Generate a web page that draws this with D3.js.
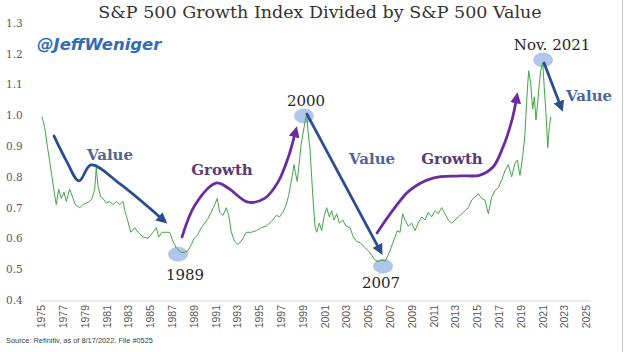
<!DOCTYPE html>
<html>
<head>
<meta charset="utf-8">
<script src="https://cdn.jsdelivr.net/npm/d3@7"></script>
<style>
  body { margin: 0; background: #fff; }
  svg { display: block; }
</style>
</head>
<body>
<div id="container"></div>
<script>
let w = 624;
let h = 352;

// ratio of S&P 500 Growth to S&P 500 Value
let years = [
  1975.09, 1975.34, 1975.58, 1975.80, 1976.01, 1976.26, 1976.40, 1976.62, 1976.86, 1977.11,
  1977.32, 1977.63, 1977.94, 1978.15, 1978.55, 1978.85, 1979.16, 1979.47, 1979.68, 1979.93,
  1980.07, 1980.23, 1980.48, 1980.69, 1980.99, 1981.30, 1981.61, 1981.91, 1982.22, 1982.52,
  1982.73, 1982.98, 1983.23, 1983.60, 1983.90, 1984.36, 1984.82, 1985.28, 1985.58, 1985.80,
  1986.10, 1986.50, 1986.81, 1987.11, 1987.41, 1987.82, 1988.18, 1988.49, 1988.79, 1989.04,
  1989.34, 1989.71, 1990.02, 1990.32, 1990.62, 1990.94, 1991.17, 1991.39, 1991.70, 1992.00,
  1992.22, 1992.46, 1992.77, 1993.07, 1993.44, 1993.83, 1994.29, 1994.75, 1995.21, 1995.67,
  1996.13, 1996.59, 1996.90, 1997.20, 1997.50, 1997.72, 1997.96, 1998.21, 1998.33, 1998.51,
  1998.73, 1998.88, 1999.13, 1999.28, 1999.38, 1999.52, 1999.68, 1999.83, 1999.98, 2000.14,
  2000.29, 2000.53, 2000.75, 2000.96, 2001.21, 2001.45, 2001.67, 2001.88, 2002.13, 2002.37,
  2002.68, 2002.98, 2003.35, 2003.65, 2003.96, 2004.33, 2004.72, 2005.03, 2005.34, 2005.64,
  2005.94, 2006.26, 2006.56, 2006.77, 2007.02, 2007.27, 2007.48, 2007.69, 2007.94, 2008.18,
  2008.39, 2008.70, 2009.01, 2009.31, 2009.61, 2009.93, 2010.23, 2010.53, 2010.84, 2011.15,
  2011.45, 2011.76, 2012.06, 2012.37, 2012.68, 2012.98, 2013.28, 2013.60, 2013.90, 2014.20,
  2014.51, 2014.82, 2015.12, 2015.43, 2015.73, 2016.04, 2016.35, 2016.65, 2016.96, 2017.27,
  2017.57, 2017.87, 2018.18, 2018.49, 2018.70, 2018.94, 2019.19, 2019.40, 2019.56, 2019.74,
  2019.92, 2020.11, 2020.26, 2020.41, 2020.57, 2020.72, 2020.84, 2021.03, 2021.17, 2021.33,
  2021.49, 2021.63, 2021.76
];
let ratio = [
  0.996, 0.96, 0.90, 0.85, 0.80, 0.74, 0.71, 0.76, 0.73, 0.75,
  0.72, 0.76, 0.73, 0.71, 0.70, 0.71, 0.715, 0.72, 0.73, 0.76,
  0.83, 0.77, 0.735, 0.73, 0.715, 0.72, 0.71, 0.72, 0.71, 0.72,
  0.685, 0.655, 0.62, 0.635, 0.62, 0.605, 0.60, 0.62, 0.635, 0.605,
  0.62, 0.62, 0.62, 0.59, 0.57, 0.555, 0.555, 0.56, 0.58, 0.60,
  0.61, 0.635, 0.65, 0.665, 0.685, 0.71, 0.73, 0.685, 0.675, 0.70,
  0.675, 0.62, 0.59, 0.58, 0.595, 0.62, 0.62, 0.625, 0.635, 0.64,
  0.655, 0.675, 0.67, 0.685, 0.71, 0.74, 0.785, 0.84, 0.815, 0.785,
  0.86, 0.91, 0.96, 0.99, 1.0, 0.94, 0.89, 0.80, 0.715, 0.64,
  0.62, 0.65, 0.625, 0.67, 0.70, 0.67, 0.69, 0.66, 0.68, 0.65,
  0.66, 0.64, 0.635, 0.605, 0.59, 0.585, 0.57, 0.56, 0.545, 0.53,
  0.525, 0.53, 0.525, 0.54, 0.56, 0.585, 0.605, 0.625, 0.62, 0.68,
  0.66, 0.64, 0.65, 0.625, 0.65, 0.67, 0.66, 0.685, 0.67, 0.69,
  0.68, 0.70, 0.68, 0.66, 0.65, 0.66, 0.67, 0.68, 0.69, 0.70,
  0.725, 0.735, 0.745, 0.73, 0.725, 0.68, 0.735, 0.755, 0.765, 0.79,
  0.82, 0.84, 0.80, 0.845, 0.855, 0.805, 0.865, 0.94, 1.05, 1.145,
  1.105, 1.02, 1.06, 0.985, 1.04, 1.105, 1.145, 1.17, 1.09, 1.005,
  0.895, 0.96, 0.995
];

let xTicks = [1975, 1977, 1979, 1981, 1983, 1985, 1987, 1989, 1991, 1993, 1995, 1997, 1999,
  2001, 2003, 2005, 2007, 2009, 2011, 2013, 2015, 2017, 2019, 2021, 2023, 2025];
let yTicks = [0.4, 0.5, 0.6, 0.7, 0.8, 0.9, 1.0, 1.1, 1.2, 1.3];

// highlighted turning points
let spotNames = ["1989", "2000", "2007", "Nov. 2021"];
let spotYears = [1987.57, 1999.13, 2006.38, 2021.06];
let spotValues = [0.549, 0.998, 0.510, 1.180];

// hand drawn trend arrows, in [year, ratio]
let valueArrow1 = [[1976.19, 0.933], [1977.39, 0.848], [1978.49, 0.787], [1979.59, 0.839],
  [1982.25, 0.777], [1986.05, 0.665]];
let growthArrow1 = [[1987.94, 0.605], [1989.13, 0.709], [1991.06, 0.780], [1992.16, 0.764],
  [1993.99, 0.718], [1995.55, 0.731], [1996.74, 0.783], [1997.66, 0.861], [1998.30, 0.940]];
let valueArrow2 = [[1999.40, 1.004], [2006.00, 0.568]];
let growthArrow2 = [[2005.83, 0.618], [2007.29, 0.692], [2008.85, 0.757], [2010.96, 0.796],
  [2013.44, 0.803], [2015.28, 0.806], [2016.47, 0.832], [2017.39, 0.897], [2018.21, 0.985],
  [2018.60, 1.050]];
let valueArrow3 = [[2021.15, 1.170], [2022.62, 1.035]];

// trend words
let trendWords = ["Value", "Growth", "Value", "Growth", "Value"];
let trendYears = [1981.33, 1991.61, 2005.37, 2012.71, 2025.28];
let trendValues = [0.855, 0.806, 0.842, 0.842, 1.047];

let viz = d3.select("#container")
  .append("svg")
    .attr("width", w)
    .attr("height", h)
;

viz.append("rect")
  .attr("width", w)
  .attr("height", h)
  .attr("fill", "#fff")
;

let xScale = d3.scaleLinear().domain([1975, 2025]).range([41, 586]);
let yScale = d3.scaleLinear().domain([0.4, 1.3]).range([300, 23]);

let serif = "'DejaVu Serif', serif";
let sans = "'Liberation Sans', Arial, sans-serif";

// title
viz.append("text")
  .text("S&P 500 Growth Index Divided by S&P 500 Value")
  .attr("x", 320)
  .attr("y", 18)
  .attr("text-anchor", "middle")
  .attr("font-family", serif)
  .attr("font-size", 17.5)
  .attr("fill", "#333")
;

// y axis labels
let yAxisGroup = viz.append("g").attr("class", "yaxis");
let yAxis = d3.axisLeft(yScale)
  .tickValues(yTicks)
  .tickFormat(d3.format(".1f"))
  .tickSize(0)
  .tickPadding(0);
yAxisGroup.call(yAxis);
yAxisGroup.attr("transform", "translate(6,0)");
yAxisGroup.select(".domain").remove();
yAxisGroup.selectAll("text")
  .attr("text-anchor", "start")
  .attr("font-family", serif)
  .attr("font-size", 10.5)
  .attr("fill", "#595959")
;

// baseline
viz.append("line")
  .attr("x1", 40)
  .attr("x2", 591)
  .attr("y1", yScale(0.4) + 1)
  .attr("y2", yScale(0.4) + 1)
  .attr("stroke", "#d9d9d9")
  .attr("stroke-width", 1)
;

// x axis labels
let xAxisGroup = viz.append("g").attr("class", "xaxis");
let xAxis = d3.axisBottom(xScale)
  .tickValues(xTicks)
  .tickFormat(d3.format("d"))
  .tickSize(0)
  .tickPadding(0);
xAxisGroup.call(xAxis);
xAxisGroup.attr("transform", "translate(0,305)");
xAxisGroup.select(".domain").remove();
xAxisGroup.selectAll("text")
  .attr("transform", "rotate(-90)")
  .attr("text-anchor", "end")
  .attr("x", 0)
  .attr("y", 0)
  .attr("dy", "0.35em")
  .attr("font-family", sans)
  .attr("font-size", 10.5)
  .attr("fill", "#595959")
;

// source note
viz.append("text")
  .text("Source: Refinitiv, as of 8/17/2022. File #0525")
  .attr("x", 6)
  .attr("y", 343)
  .attr("font-family", sans)
  .attr("font-size", 7.4)
  .attr("fill", "#404040")
;

// handle
viz.append("text")
  .text("@JeffWeniger")
  .attr("x", 37)
  .attr("y", 50)
  .attr("font-family", "'DejaVu Sans', sans-serif")
  .attr("font-size", 16.5)
  .attr("font-weight", "bold")
  .attr("font-style", "italic")
  .attr("fill", "#2f6db5")
;

// turning point blobs
viz.append("g")
  .selectAll("ellipse")
  .data(spotYears)
  .enter()
  .append("ellipse")
    .attr("cx", function(d, i){ return xScale(d); })
    .attr("cy", function(d, i){ return yScale(spotValues[i]); })
    .attr("rx", 9.5)
    .attr("ry", 7)
    .attr("fill", "#a8c0e8")
    .attr("stroke", "#93acd8")
    .attr("stroke-width", 0.6)
    .attr("opacity", 0.9)
;

// the ratio line
let lineData = years.map(function(d, i){ return [d, ratio[i]]; });
let line = d3.line()
  .x(function(d){ return xScale(d[0]); })
  .y(function(d){ return yScale(d[1]); });

viz.append("path")
  .datum(lineData)
  .attr("d", line)
  .attr("fill", "none")
  .attr("stroke", "#44a447")
  .attr("stroke-width", 1)
  .attr("stroke-linejoin", "round")
;

// arrows
let defs = viz.append("defs");
function addMarker(id, color){
  defs.append("marker")
    .attr("id", id)
    .attr("viewBox", "0 0 10 10")
    .attr("refX", 3)
    .attr("refY", 5)
    .attr("markerWidth", 11)
    .attr("markerHeight", 11)
    .attr("markerUnits", "userSpaceOnUse")
    .attr("orient", "auto")
  .append("path")
    .attr("d", "M0,0 L10,5 L0,10 Z")
    .attr("fill", color)
  ;
}
addMarker("head-value", "#2a4f8f");
addMarker("head-growth", "#6b2d9c");

let curve = d3.line()
  .x(function(d){ return xScale(d[0]); })
  .y(function(d){ return yScale(d[1]); })
  .curve(d3.curveCatmullRom.alpha(0.5));

let arrows = [
  { pts: valueArrow1, color: "#2a4f8f", head: "head-value" },
  { pts: growthArrow1, color: "#6b2d9c", head: "head-growth" },
  { pts: valueArrow2, color: "#2a4f8f", head: "head-value" },
  { pts: growthArrow2, color: "#6b2d9c", head: "head-growth" },
  { pts: valueArrow3, color: "#2a4f8f", head: "head-value" }
];

viz.append("g")
  .selectAll("path")
  .data(arrows)
  .enter()
  .append("path")
    .attr("d", function(d){ return curve(d.pts); })
    .attr("fill", "none")
    .attr("stroke", function(d){ return d.color; })
    .attr("stroke-width", 2.8)
    .attr("stroke-linecap", "round")
    .attr("marker-end", function(d){ return "url(#" + d.head + ")"; })
;

// year labels at turning points
let labelDx = [7, 2, -2, 9];
let labelDy = [26, -10, 22, -10];
viz.append("g")
  .selectAll("text")
  .data(spotNames)
  .enter()
  .append("text")
    .text(function(d){ return d; })
    .attr("x", function(d, i){ return xScale(spotYears[i]) + labelDx[i]; })
    .attr("y", function(d, i){ return yScale(spotValues[i]) + labelDy[i]; })
    .attr("text-anchor", "middle")
    .attr("font-family", serif)
    .attr("font-size", 15)
    .attr("fill", "#262626")
;

viz.append("g")
  .selectAll("text")
  .data(trendWords)
  .enter()
  .append("text")
    .text(function(d){ return d; })
    .attr("x", function(d, i){ return xScale(trendYears[i]); })
    .attr("y", function(d, i){ return yScale(trendValues[i]); })
    .attr("text-anchor", "middle")
    .attr("font-family", serif)
    .attr("font-size", 15)
    .attr("font-weight", "bold")
    .attr("fill", function(d){ return d == "Value" ? "#50669a" : "#5a3a78"; })
;

// picture frame edge on the right
viz.append("line")
  .attr("x1", 622.5)
  .attr("x2", 622.5)
  .attr("y1", 0)
  .attr("y2", h)
  .attr("stroke", "#c8c8c8")
;
</script>
</body>
</html>
